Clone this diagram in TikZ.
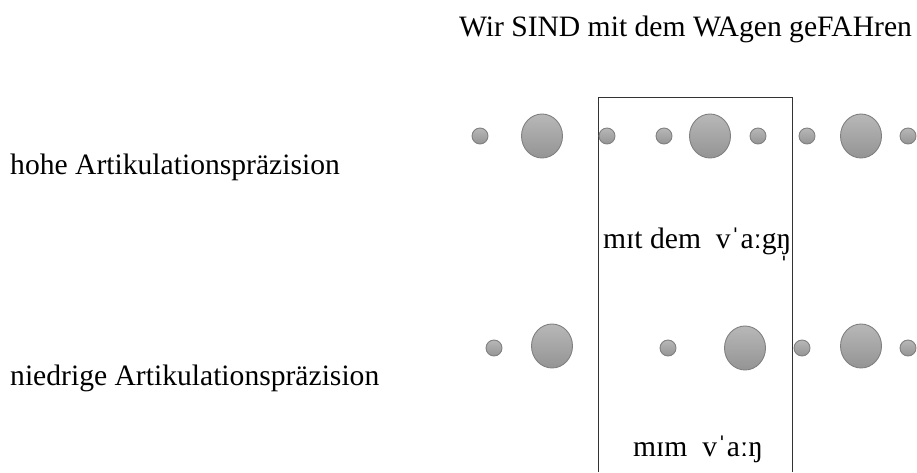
\documentclass[tikz,border=0pt]{standalone}
\usepackage{fontspec}
\setmainfont{Liberation Serif}
\usetikzlibrary{shapes.geometric}
% syllabic eng: a short stroke centred below the letter
\newcommand{\sylleng}{\ooalign{ŋ\cr\hidewidth\raisebox{-0.22em}{ˌ}\hidewidth}}
\begin{document}
\begin{tikzpicture}[x=1pt,y=-1pt,
  lbl/.style={inner sep=0pt,font=\fontsize{29.6}{34}\selectfont},
  syl/.style={ellipse,draw=black!50,line width=0.9pt,top color=black!28,bottom color=black!42,inner sep=0pt},
  weak/.style={syl,minimum width=16pt,minimum height=16pt},
  strong/.style={syl,minimum width=41pt,minimum height=44pt},
  frame/.style={draw=black!80,line width=0.9pt}]
\useasboundingbox (0,0) rectangle (917,472);
% sentence and the two rows' labels
\node[lbl,anchor=base] (sent) at (685.5,36) {Wir SIND mit dem WAgen geFAHren};
\node[lbl,anchor=base west] (hi) at (10,174) {hohe Artikulationspräzision};
\node[lbl,anchor=base west] (lo) at (10,385) {niedrige Artikulationspräzision};
% box around the transcribed stretch, open at the bottom
\coordinate (bl) at (598,472);
\coordinate (tl) at (598,97);
\coordinate (tr) at (792,97);
\coordinate (br) at (792,472);
\draw[frame] (bl) -- (tl) -- (tr) -- (br);
% high precision: syllables
\node[weak] (h1) at (480,136) {};
\node[strong] (h2) at (542,136) {};
\node[weak] (h3) at (607,136) {};
\node[weak] (h4) at (664,136) {};
\node[strong] (h5) at (710,136) {};
\node[weak] (h6) at (758,136) {};
\node[weak] (h7) at (807,136) {};
\node[strong] (h8) at (861,136) {};
\node[weak] (h9) at (908,136) {};
% low precision: syllables
\node[weak] (l1) at (494,348) {};
\node[strong] (l2) at (552,346) {};
\node[weak] (l3) at (668,348) {};
\node[strong] (l4) at (745,348) {};
\node[weak] (l5) at (802,348) {};
\node[strong] (l6) at (861,346) {};
\node[weak] (l7) at (908,348) {};
% transcriptions
\node[lbl,anchor=base west] (thi) at (603,248) {mɪt dem\ \ vˈaːg\sylleng};
\node[lbl,anchor=base west] (tlo) at (633,456) {mɪm\ \ vˈaːŋ};
\end{tikzpicture}
\end{document}
